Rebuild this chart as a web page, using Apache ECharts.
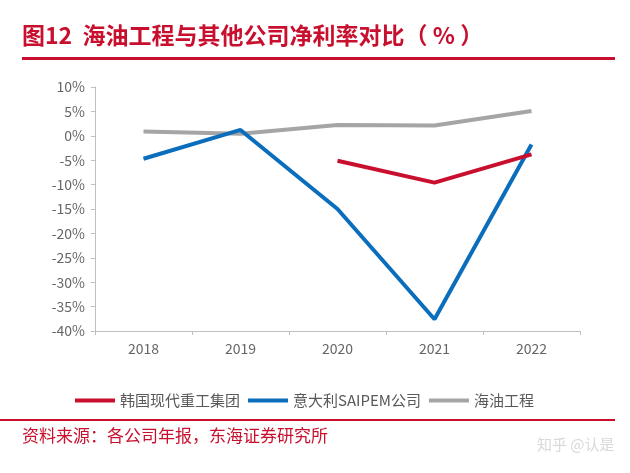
<!DOCTYPE html>
<html><head><meta charset="utf-8">
<script src="https://cdn.jsdelivr.net/npm/echarts@6/dist/echarts.min.js"></script>
<style>html,body{margin:0;padding:0;background:#fff}#c{width:630px;height:473px}</style>
</head><body><div id="c"></div>
<script>
const categories = ['2018','2019','2020','2021','2022'];
const hyundai = [null, null, -5.1, -9.6, -3.8];
const saipem = [-4.7, 1.2, -15.0, -37.6, -1.8];
const cooec = [0.9, 0.4, 2.2, 2.1, 5.1];
const yTicks = {min: -40, max: 10, interval: 5};
const seriesNames = ['韩国现代重工集团', '意大利SAIPEM公司', '海油工程'];
const titleText = '图12  海油工程与其他公司净利率对比（ % ）';
const sourceText = '资料来源：各公司年报，东海证券研究所';
const watermark = '知乎 @认是';

const RED = '#c8102e', BLUE = '#0a6ebd', GRAY = '#a5a5a5';
const font = '"Noto Sans CJK SC", "Noto Sans", sans-serif';
const chart = echarts.init(document.getElementById('c'));
chart.setOption({
  animation: false,
  textStyle: {fontFamily: font},
  grid: {left: 95, right: 50, top: 87, bottom: 142},
  graphic: [
    {type: 'text', left: 22, top: 24, style: {text: titleText, fill: RED, font: 'bold 23px ' + font}},
    {type: 'rect', shape: {x: 22, y: 57, width: 593, height: 3}, style: {fill: RED}},
    {type: 'rect', shape: {x: 0, y: 419, width: 615, height: 2}, style: {fill: RED}},
    {type: 'text', left: 22, top: 427, style: {text: sourceText, fill: RED, font: '17px ' + font}},
    {type: 'text', left: 537, top: 437, style: {text: watermark, fill: '#d8d8d8', font: '15px ' + font}}
  ],
  legend: {
    bottom: 60, left: 70, itemGap: 8, itemWidth: 40, itemHeight: 4,
    icon: 'rect',
    textStyle: {color: '#595959', fontSize: 15, fontFamily: font},
    data: seriesNames
  },
  xAxis: [{
    type: 'category', data: categories, boundaryGap: true,
    axisLine: {show: false}, axisTick: {show: false},
    axisLabel: {color: '#666666', fontSize: 14, margin: 11}
  }, {
    type: 'category', data: categories, boundaryGap: true, position: 'bottom',
    axisLine: {show: true, onZero: true, lineStyle: {color: '#bfbfbf', width: 1}},
    axisTick: {show: true, length: 4, lineStyle: {color: '#bfbfbf'}},
    axisLabel: {show: false}
  }],
  yAxis: {
    type: 'value', min: yTicks.min, max: yTicks.max, interval: yTicks.interval,
    axisLine: {show: true, lineStyle: {color: '#bfbfbf'}},
    axisTick: {show: true, length: 4, lineStyle: {color: '#bfbfbf'}},
    splitLine: {show: false},
    axisLabel: {color: '#666666', fontSize: 14, margin: 10, formatter: v => v + '%'}
  },
  series: [
    {name: seriesNames[0], type: 'line', data: hyundai, symbol: 'none', lineStyle: {color: RED, width: 4}, itemStyle: {color: RED}, z: 4},
    {name: seriesNames[1], type: 'line', data: saipem, symbol: 'none', lineStyle: {color: BLUE, width: 4}, itemStyle: {color: BLUE}, z: 3},
    {name: seriesNames[2], type: 'line', data: cooec, symbol: 'none', lineStyle: {color: GRAY, width: 4}, itemStyle: {color: GRAY}, z: 2}
  ]
});
</script></body></html>
